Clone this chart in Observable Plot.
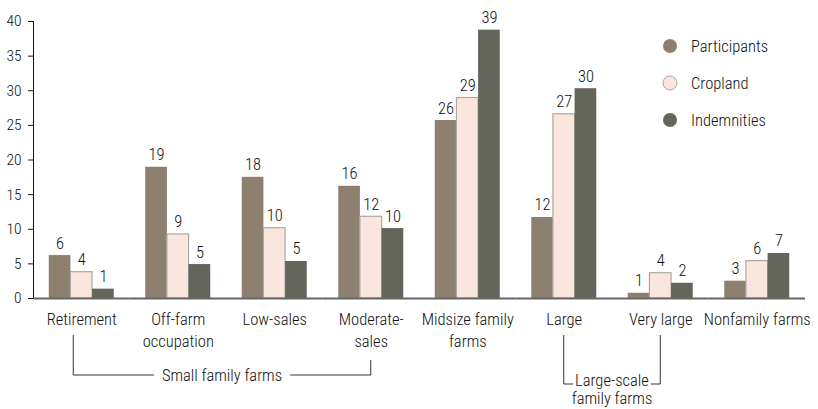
<!DOCTYPE html>
<html><head><meta charset="utf-8">
<script src="https://cdn.jsdelivr.net/npm/d3@7"></script>
<script src="https://cdn.jsdelivr.net/npm/@observablehq/plot@0.6"></script>
<style>
body{margin:0;background:#fff}
#chart{position:relative;width:818px;height:409px}
#chart svg text{font-weight:300}
</style>
</head><body><div id="chart"></div>
<script>
const categories = ["Retirement", "Off-farm\noccupation", "Low-sales", "Moderate-\nsales", "Midsize family\nfarms", "Large", "Very large", "Nonfamily farms"];
const series = ["Participants", "Cropland", "Indemnities"];
const participants = [6.2, 18.95, 17.5, 16.2, 25.7, 11.7, 0.75, 2.5];
const cropland = [3.8, 9.25, 10.15, 11.8, 28.95, 26.6, 3.65, 5.4];
const indemnities = [1.35, 4.9, 5.35, 10.1, 38.75, 30.3, 2.2, 6.5];
const participantsLabels = ["6", "19", "18", "16", "26", "12", "1", "3"];
const croplandLabels = ["4", "9", "10", "12", "29", "27", "4", "6"];
const indemnitiesLabels = ["1", "5", "5", "10", "39", "30", "2", "7"];
const yTicks = [0, 5, 10, 15, 20, 25, 30, 35, 40];
const colors = ["#8e806f", "#fbe6dd", "#64665c"];
const groupLabels = ["Small family farms", "Large-scale\nfamily farms"];

const values = [participants, cropland, indemnities];
const labels = [participantsLabels, croplandLabels, indemnitiesLabels];
const data = categories.flatMap((c, i) => series.map((s, j) => ({category: c, series: s, value: values[j][i], label: labels[j][i]})));

const FONT = "'Roboto Condensed','Liberation Sans Narrow',sans-serif";
const INK = "#111";

const plot = Plot.plot({
  width: 818, height: 409,
  marginLeft: 33, marginRight: 13, marginTop: 21, marginBottom: 111,
  style: {fontFamily: FONT, fontSize: "15.5px", color: INK, background: "#fff"},
  fx: {domain: categories, padding: 0, round: false, label: null},
  x: {domain: series, paddingInner: 0, paddingOuter: 0.727, round: false, axis: null},
  y: {domain: [0, 40], ticks: yTicks, tickSize: 5, tickPadding: 7, line: true, label: null},
  color: {domain: series, range: colors},
  marks: [
    Plot.axisFx({anchor: "bottom", tickSize: 0, tickPadding: 10, fontSize: 16.5, lineHeight: 1.38, label: null}),
    Plot.barY(data, {fx: "category", x: "series", y: "value", fill: "series",
      stroke: d => d.series === "Cropland" ? "#aca7a4" : "none", strokeWidth: 1.2}),
    Plot.ruleY([0], {stroke: "#666", strokeWidth: 2}),
    Plot.text(data, {fx: "category", x: "series", y: "value", text: "label", lineAnchor: "bottom", dy: -7, fontSize: 16.5, fill: INK})
  ]
});
document.getElementById("chart").append(plot);

// legend and group brackets, positioned with the plot's scales
const svg = d3.select(plot);
const fx = plot.scale("fx");
const center = c => fx.apply(c) + fx.bandwidth / 2;

const lg = svg.append("g").attr("font-family", FONT).attr("font-size", 16.5).attr("fill", INK).attr("text-anchor", "start");
series.forEach((s, j) => {
  const cy = 46 + j * 37;
  lg.append("circle").attr("cx", 670).attr("cy", cy).attr("r", 7)
    .attr("fill", colors[j]).attr("stroke", s === "Cropland" ? "#aca7a4" : "none");
  lg.append("text").attr("x", 691).attr("y", cy).attr("dy", "0.35em").text(s);
});

const bg = svg.append("g").attr("font-family", FONT).attr("font-size", 16.5).attr("fill", INK);
// Small family farms
{
  const xl = center(categories[0]) - 8, xr = center(categories[3]);
  const t = bg.append("text").attr("x", (xl + xr) / 2).attr("y", 375).attr("dy", "0.35em").attr("text-anchor", "middle").text(groupLabels[0]);
  const b = t.node().getBBox();
  bg.append("path").attr("fill", "none").attr("stroke", "#333")
    .attr("d", `M${xl},335V375H${b.x - 8}M${b.x + b.width + 8},375H${xr}V360`);
}
// Large-scale family farms
{
  const xl = center(categories[5]), xr = center(categories[6]);
  const [l1, l2] = groupLabels[1].split("\n");
  const t = bg.append("text").attr("x", (xl + xr) / 2).attr("y", 380).attr("dy", "0.35em").attr("text-anchor", "middle").text(l1);
  bg.append("text").attr("x", (xl + xr) / 2).attr("y", 398).attr("dy", "0.35em").attr("text-anchor", "middle").text(l2);
  const b = t.node().getBBox();
  bg.append("path").attr("fill", "none").attr("stroke", "#333")
    .attr("d", `M${xl},335V384H${b.x - 2}M${b.x + b.width + 2},384H${xr}V335`);
}
</script>
</body></html>
